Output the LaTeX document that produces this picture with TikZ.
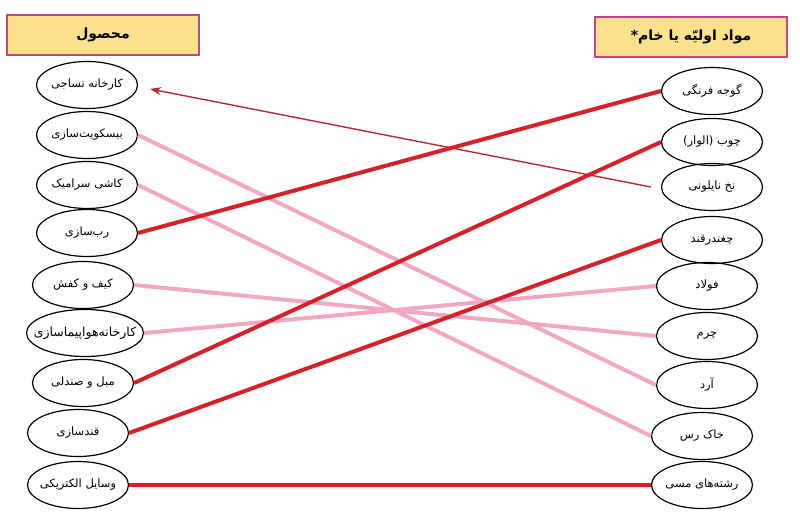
\documentclass[tikz,border=0pt]{standalone}
\usepackage{fontspec}
\usetikzlibrary{shapes.geometric,arrows.meta}
\TeXXeTstate=1
\newfontfamily\fa[Script=Arabic]{DejaVu Sans}
\newfontfamily\dv{DejaVu Sans}
\newcommand\zw[1]{\makebox[0pt][c]{#1}}
\definecolor{hdrfill}{HTML}{FCE28E}
\definecolor{hdrline}{HTML}{C4448C}
\definecolor{thickred}{HTML}{D7212A}
\definecolor{pinkline}{HTML}{F0A8C4}
\definecolor{thinred}{HTML}{B52A33}
\begin{document}
\begin{tikzpicture}[x=1pt,y=-1pt,
 item/.style={ellipse, draw=black, line width=1.2pt, minimum width=101pt, minimum height=47pt, inner sep=0pt, font=\fa\fontsize{11.5}{13}\selectfont},
 header/.style={rectangle, draw=hdrline, line width=1.5pt, fill=hdrfill, minimum width=192pt, minimum height=40pt, inner sep=0pt, font=\fa\bfseries\fontsize{14}{16}\selectfont},
 redlink/.style={draw=thickred, line width=4pt},
 pinklink/.style={draw=pinkline, line width=4pt},
 arrowlink/.style={draw=thinred, line width=1.4pt, -{Stealth[length=11pt,width=8pt]}}]
\useasboundingbox (0,0) rectangle (800,529);
% headers
\node[header] (hL) at (103,35) {\beginR محصول\endR};
\node[header] (hR) at (691,37) {{\dv*}\beginR مواد اولیّه یا خام\endR};
% left column
\node[item] (L1) at (87,85) {\zw{\beginR کارخانه نساجی\endR}};
\node[item] (L2) at (87,135) {\zw{\beginR بیسکویت^^^^200cسازی\endR}};
\node[item] (L3) at (87,185) {\zw{\beginR کاشی سرامیک\endR}};
\node[item] (L4) at (87,233) {\zw{\beginR رب^^^^200cسازی\endR}};
\node[item] (L5) at (83,285) {\zw{\beginR کیف و کفش\endR}};
\node[item, minimum width=117pt, font=\fa\fontsize{12.5}{14}\selectfont] (L6) at (85,333) {\zw{\beginR کارخانه^^^^200cهواپیماسازی\endR}};
\node[item] (L7) at (83,383) {\zw{\beginR مبل و صندلی\endR}};
\node[item] (L8) at (78,433) {\zw{\beginR قندسازی\endR}};
\node[item] (L9) at (78,485) {\zw{\beginR وسایل الکتریکی\endR}};
% right column
\node[item] (R1) at (712,91) {\zw{\beginR گوجه فرنگی\endR}};
\node[item] (R2) at (712,142) {\zw{{\dv(}\beginR الوار\endR{\dv)} \beginR چوب\endR}};
\node[item] (R3) at (712,187) {\zw{\beginR نخ نایلونی\endR}};
\node[item] (R4) at (712,240) {\zw{\beginR چغندرقند\endR}};
\node[item] (R5) at (707,286) {\zw{\beginR فولاد\endR}};
\node[item] (R6) at (707,336) {\zw{\beginR چرم\endR}};
\node[item] (R7) at (707,385) {\zw{\beginR آرد\endR}};
\node[item] (R8) at (702,436) {\zw{\beginR خاک رس\endR}};
\node[item] (R9) at (702,485) {\zw{\beginR رشته^^^^200cهای مسی\endR}};
% arrow
\coordinate (aS) at ([xshift=-10pt]R3.west);
\coordinate (aE) at ([xshift=12pt,yshift=-4pt]L1.east);
\draw[arrowlink] (aS) -- (aE);
% pink links
\draw[pinklink] (L2.east) -- (R7.west);
\draw[pinklink] (L3.east) -- (R8.west);
\draw[pinklink] (L5.east) -- (R6.west);
\draw[pinklink] (L6.east) -- (R5.west);
% red links
\draw[redlink] (L4.east) -- (R1.west);
\draw[redlink] (L7.east) -- (R2.west);
\draw[redlink] (L8.east) -- (R4.west);
\draw[redlink] (L9.east) -- (R9.west);
\end{tikzpicture}
\end{document}
